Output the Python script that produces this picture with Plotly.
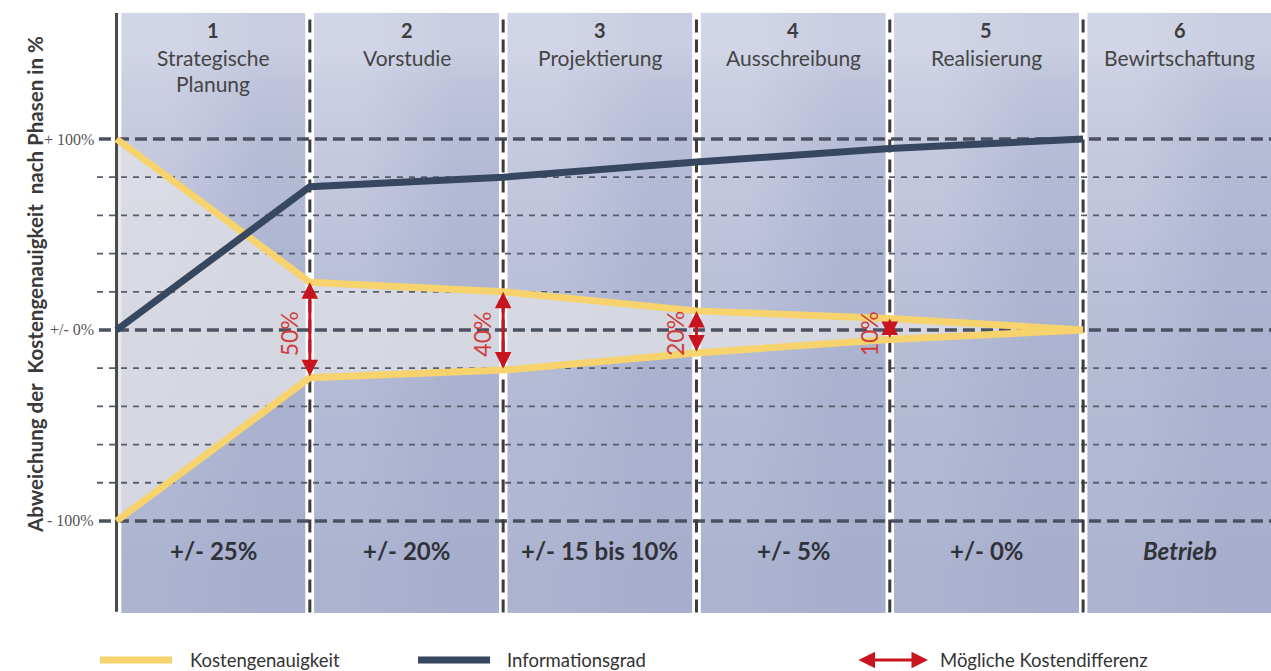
import plotly.graph_objects as go

# ---------------- data ----------------
phase_x = [0, 1, 2, 3, 4, 5]
kosten_upper = [100, 25, 20, 10, 6, 0]
kosten_lower = [-100, -25, -21, -12, -5, 0]
info_grad = [0, 75, 80, 88, 95, 100]

diff_x = [1, 2, 3, 4]
diff_labels = ["50%", "40%", "20%", "10%"]

phase_nums = ["1", "2", "3", "4", "5", "6"]
phase_names = ["Strategische<br>Planung", "Vorstudie", "Projektierung",
               "Ausschreibung", "Realisierung", "Bewirtschaftung"]
accuracy_labels = ["+/- 25%", "+/- 20%", "+/- 15 bis 10%", "+/- 5%", "+/- 0%", "<i>Betrieb</i>"]

y_major = [100, 0, -100]
y_major_labels = ["+ 100%", "+/- 0%", "- 100%"]
y_minor = [80, 60, 40, 20, -20, -40, -60, -80]

legend_labels = ["Kostengenauigkeit", "Informationsgrad", "Mögliche Kostendifferenz"]
y_title = "Abweichung der  Kostengenauigkeit  nach Phasen in %"

# ---------------- style ----------------
XMIN, XMAX = -0.101, 5.972
YMIN, YMAX = -148.2, 166.5
PXU = 1.905  # pixels per y unit (for text placement only)
YELLOW = "#f6d36c"
BLUE = "#36475f"
RED = "#c8141e"
GAP = 0.022
FONT = "Lato"


def y_at_px(p):
    return (330 - p) / PXU


fig = go.Figure()

# panel backgrounds (gradient via smoothed heatmaps)
n_panels = len(phase_nums)
for i in range(n_panels):
    x0 = i + (0.025 if i == 0 else GAP)
    x1 = (i + 1 - GAP) if i < n_panels - 1 else XMAX
    fig.add_trace(go.Heatmap(
        x=[x0, (x0 + x1) / 2, x1],
        y=[-148, -100, 40, 130, 166],
        z=[[0.3, 0.22], [0.45, 0.28], [0.72, 0.45], [0.97, 0.82]],
        zsmooth="best", zmin=0, zmax=1, showscale=False, hoverinfo="skip",
        colorscale=[[0, "#9aa3c5"], [1, "#d4d7e8"]],
    ))

# funnel fill between cost accuracy lines
fig.add_trace(go.Scatter(x=phase_x, y=kosten_lower, mode="lines",
                         line=dict(width=0), hoverinfo="skip", showlegend=False))
fig.add_trace(go.Scatter(x=phase_x, y=kosten_upper, mode="lines", fill="tonexty",
                         fillcolor="rgba(226,226,230,0.75)",
                         line=dict(width=0), hoverinfo="skip", showlegend=False))

# white gaps between panels
for b in diff_x + [5]:
    fig.add_trace(go.Scatter(x=[b, b], y=[-148, 166], mode="lines",
                             line=dict(color="white", width=8), hoverinfo="skip", showlegend=False))

# horizontal grid lines
for v in y_minor:
    fig.add_trace(go.Scatter(x=[XMIN, XMAX], y=[v, v], mode="lines",
                             line=dict(color="#585d6c", width=1.8, dash="6px,6px"),
                             hoverinfo="skip", showlegend=False))
for v in y_major:
    fig.add_trace(go.Scatter(x=[XMIN + 0.01, XMAX], y=[v, v], mode="lines",
                             line=dict(color="#4c5162", width=3.5, dash="12px,6px"),
                             hoverinfo="skip", showlegend=False))

# vertical dashed boundaries
for b in diff_x + [5]:
    fig.add_trace(go.Scatter(x=[b, b], y=[-148, 166], mode="lines",
                             line=dict(color="#3c3c3c", width=3, dash="13px,7px"),
                             hoverinfo="skip", showlegend=False))

# left axis line
fig.add_trace(go.Scatter(x=[0, 0], y=[-147.5, 166], mode="lines",
                         line=dict(color="#4a4a4a", width=3), hoverinfo="skip", showlegend=False))

# data lines
fig.add_trace(go.Scatter(x=phase_x, y=kosten_upper, mode="lines",
                         line=dict(color=YELLOW, width=7), name=legend_labels[0], showlegend=False))
fig.add_trace(go.Scatter(x=phase_x, y=kosten_lower, mode="lines",
                         line=dict(color=YELLOW, width=7), name=legend_labels[0], showlegend=False))
fig.add_trace(go.Scatter(x=phase_x, y=info_grad, mode="lines",
                         line=dict(color=BLUE, width=7), name=legend_labels[1], showlegend=False))

ann = []
shapes = []

# difference arrows + labels
for xb, lab in zip(diff_x, diff_labels):
    up = kosten_upper[phase_x.index(xb)]
    lo = kosten_lower[phase_x.index(xb)]
    ann.append(dict(x=xb, y=up, ax=xb, ay=lo, xref="x", yref="y", axref="x", ayref="y",
                    text="", showarrow=True, arrowside="end+start", arrowhead=2,
                    arrowsize=1.1, arrowwidth=3, arrowcolor=RED, standoff=0, startstandoff=0))
    ann.append(dict(x=xb - 0.11, y=-2, xref="x", yref="y", text=lab, showarrow=False,
                    textangle=-90, font=dict(family=FONT, size=23, color="#d23b3b")))

# phase headers & bottom accuracy labels
for i in range(n_panels):
    cx = i + 0.5
    ann.append(dict(x=cx, y=y_at_px(31), xref="x", yref="y", text="<b>" + phase_nums[i] + "</b>",
                    showarrow=False, font=dict(family=FONT, size=20, color="#3d3d3d")))
    for k, line in enumerate(phase_names[i].split("<br>")):
        ann.append(dict(x=cx, y=y_at_px(58 + 26 * k), xref="x", yref="y", text=line,
                        showarrow=False, font=dict(family=FONT, size=21, color="#454545")))
    ann.append(dict(x=cx, y=y_at_px(550), xref="x", yref="y",
                    text="<b>" + accuracy_labels[i] + "</b>", showarrow=False,
                    font=dict(family=FONT, size=24, color="#30323a")))

# y tick labels
for v, lab in zip(y_major, y_major_labels):
    ann.append(dict(x=XMIN, y=v, xref="x", yref="y", text=lab, showarrow=False,
                    xanchor="right", xshift=-1,
                    font=dict(family="Liberation Serif", size=16, color="#555555")))

# y title (paper coords relative to plot area: left edge at px 97, width 1174)
def px_x(p):
    return (p - 97) / 1174


def px_y(p):
    return (613 - p) / 601


ann.append(dict(x=px_x(21), y=px_y(285), xref="paper", yref="paper",
                text="<b>" + y_title + "</b>", showarrow=False, textangle=-90,
                font=dict(family=FONT, size=20.5, color="#3a3a3a")))

# legend (manual)
LEG_Y = px_y(660)
shapes.append(dict(type="line", xref="paper", yref="paper", x0=px_x(100), x1=px_x(172),
                   y0=LEG_Y, y1=LEG_Y, line=dict(color=YELLOW, width=7)))
shapes.append(dict(type="line", xref="paper", yref="paper", x0=px_x(418), x1=px_x(490),
                   y0=LEG_Y, y1=LEG_Y, line=dict(color=BLUE, width=7)))
ann.append(dict(x=px_x(928), y=LEG_Y, xref="paper", yref="paper", ax=-71, ay=0,
                text="", showarrow=True, arrowside="end+start", arrowhead=2,
                arrowsize=1.1, arrowwidth=3, arrowcolor=RED, standoff=0, startstandoff=0))
for xp, lab in zip([188, 505, 938], legend_labels):
    ann.append(dict(x=px_x(xp), y=LEG_Y, xref="paper", yref="paper", text=lab,
                    showarrow=False, xanchor="left", yanchor="middle",
                    font=dict(family=FONT, size=18.5, color="#333333")))

fig.update_layout(
    width=1271, height=671,
    margin=dict(l=97, r=0, t=12, b=58),
    paper_bgcolor="white", plot_bgcolor="white",
    xaxis=dict(range=[XMIN, XMAX], visible=False, fixedrange=True),
    yaxis=dict(range=[YMIN, YMAX], visible=False, fixedrange=True),
    showlegend=False,
    annotations=ann, shapes=shapes,
)

fig.write_html("out.html")
